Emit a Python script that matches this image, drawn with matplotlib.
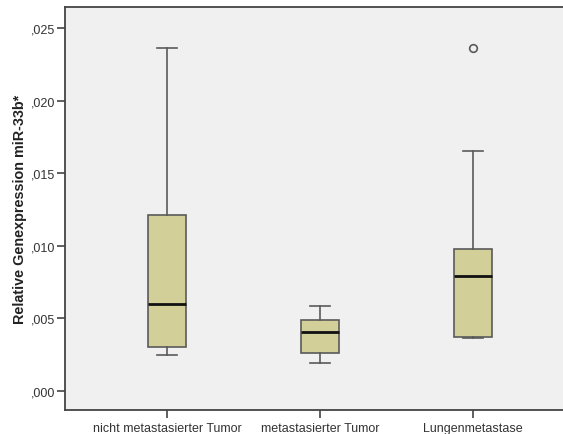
import matplotlib
matplotlib.use("Agg")
import matplotlib.pyplot as plt

# Box statistics
categories = ["nicht metastasierter Tumor", "metastasierter Tumor", "Lungenmetastase"]
whisker_low = [0.00248, 0.00193, 0.00362]
q1 = [0.00300, 0.00264, 0.00375]
median = [0.00599, 0.00406, 0.00795]
q3 = [0.01210, 0.00491, 0.00980]
whisker_high = [0.02362, 0.00585, 0.01653]
outliers = [[], [], [0.02360]]

yticks = [0.000, 0.005, 0.010, 0.015, 0.020, 0.025]
ytick_labels = [",000", ",005", ",010", ",015", ",020", ",025"]

plt.rcParams['font.family'] = ['Liberation Sans', 'DejaVu Sans']

fig = plt.figure(figsize=(5.63, 4.35), dpi=100)
ax = fig.add_axes([65 / 563, 24 / 435, 510 / 563, 403.5 / 435])
ax.set_facecolor("#f0f0f0")

stats = []
for i, name in enumerate(categories):
    stats.append({
        "label": name,
        "whislo": whisker_low[i],
        "q1": q1[i],
        "med": median[i],
        "q3": q3[i],
        "whishi": whisker_high[i],
        "fliers": outliers[i],
    })

edge = "#5a5a5a"
ax.bxp(
    stats,
    positions=[1, 2, 3],
    widths=0.245,
    patch_artist=True,
    boxprops=dict(facecolor="#d3cf98", edgecolor=edge, linewidth=1.2),
    medianprops=dict(color="#111111", linewidth=2.0),
    whiskerprops=dict(color=edge, linewidth=1.2),
    capprops=dict(color=edge, linewidth=1.2),
    capwidths=0.13,
    flierprops=dict(marker="o", markerfacecolor="none", markeredgecolor=edge,
                    markersize=5.5, markeredgewidth=1.2),
)

ax.set_xlim(0.333, 3.667)
ax.set_ylim(-0.00131, 0.02648)
ax.set_yticks(yticks)
ax.set_yticklabels(ytick_labels, fontsize=9, color="#333333")
ax.set_xticks([1, 2, 3])
ax.set_xticklabels(categories, fontsize=9, color="#333333")
ax.tick_params(axis="both", direction="out", length=6, width=1.2, color="#444444")
ax.tick_params(axis="x", pad=3)
ax.tick_params(axis="y", pad=1)

for side in ["left", "bottom", "top", "right"]:
    ax.spines[side].set_color("#444444")
    ax.spines[side].set_linewidth(1.3)

ax.set_ylabel("Relative Genexpression miR-33b*", fontsize=10.4, fontweight="bold",
              color="#222222", labelpad=2.5)

fig.savefig("out.png", dpi=100)
